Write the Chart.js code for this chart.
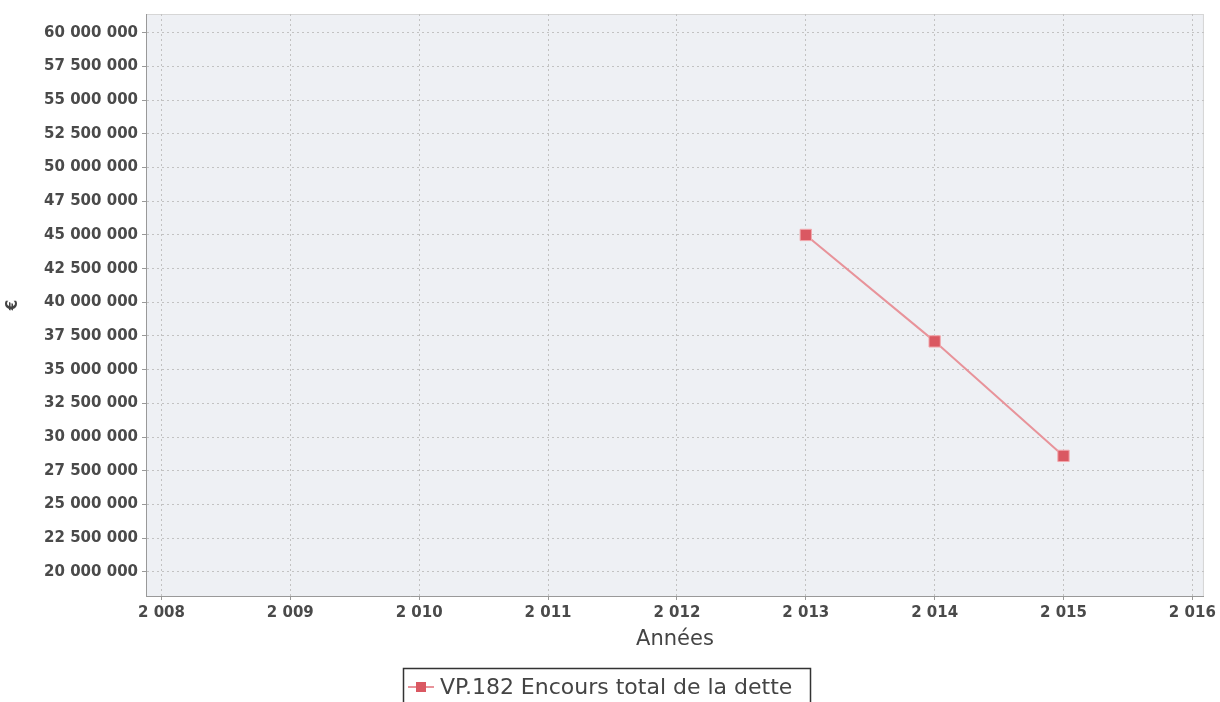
<!DOCTYPE html>
<html>
<head>
<meta charset="utf-8">
<script src="https://cdn.jsdelivr.net/npm/chart.js@4/dist/chart.umd.min.js"></script>
<style>
  body { margin: 0; background: #fff; }
  canvas { display: block; }
</style>
</head>
<body>
<canvas id="debtChart" width="1220" height="702"></canvas>
<script>
// data
const years = [2013, 2014, 2015];
const encours = [45000000, 37100000, 28600000];
const xTicks = [2008, 2009, 2010, 2011, 2012, 2013, 2014, 2015, 2016];
const yTicks = [20000000, 22500000, 25000000, 27500000, 30000000, 32500000, 35000000,
  37500000, 40000000, 42500000, 45000000, 47500000, 50000000, 52500000, 55000000,
  57500000, 60000000];
const seriesLabel = 'VP.182 Encours total de la dette';

const LINE_COLOR = '#e8939a';
const POINT_COLOR = '#da5862';
const FONT = 'DejaVu Sans';

// 60000000 -> "60 000 000", 2008 -> "2 008"
function spaced(v) {
  return String(Math.round(v)).replace(/\B(?=(\d{3})+(?!\d))/g, ' ');
}

const plotBackground = {
  id: 'plotBackground',
  beforeDraw(chart) {
    const { ctx, chartArea: a } = chart;
    ctx.save();
    ctx.fillStyle = '#eef0f4';
    ctx.fillRect(a.left, a.top, a.right - a.left, a.bottom - a.top);
    ctx.strokeStyle = '#d6d6d6';
    ctx.lineWidth = 1;
    ctx.strokeRect(a.left + 0.5, a.top + 0.5, a.right - a.left - 1, a.bottom - a.top);
    ctx.restore();
  },
};

// boxed legend like the original (line + square marker)
const boxedLegend = {
  id: 'boxedLegend',
  afterDraw(chart) {
    const { ctx } = chart;
    const ds = chart.data.datasets[0];
    ctx.save();
    ctx.font = '22px ' + FONT;
    const tw = ctx.measureText(ds.label).width;
    const x0 = 403;
    const y0 = 668;
    const w = Math.max(407, tw + 44);
    ctx.strokeStyle = '#333';
    ctx.lineWidth = 1.5;
    ctx.strokeRect(x0 + 0.5, y0 + 0.5, w, 44);
    const cy = y0 + 19;
    ctx.strokeStyle = LINE_COLOR;
    ctx.lineWidth = 2;
    ctx.beginPath();
    ctx.moveTo(x0 + 5, cy);
    ctx.lineTo(x0 + 31, cy);
    ctx.stroke();
    ctx.fillStyle = POINT_COLOR;
    ctx.fillRect(x0 + 13, cy - 5, 10, 10);
    ctx.fillStyle = '#444';
    ctx.textBaseline = 'middle';
    ctx.fillText(ds.label, x0 + 37, cy + 1);
    ctx.restore();
  },
};

new Chart(document.getElementById('debtChart').getContext('2d'), {
  type: 'line',
  data: {
    datasets: [
      {
        label: seriesLabel,
        data: years.map((y, i) => ({ x: y, y: encours[i] })),
        borderColor: LINE_COLOR,
        borderWidth: 2,
        pointStyle: 'rect',
        pointRadius: 8,
        pointBackgroundColor: POINT_COLOR,
        pointBorderColor: '#f2a8ad',
        pointBorderWidth: 1,
        lineTension: 0,
      },
    ],
  },
  options: {
    responsive: false,
    animation: false,
    devicePixelRatio: 1,
    layout: { padding: { left: 0, right: 15, top: 14, bottom: 50 } },
    plugins: {
      legend: { display: false },
      tooltip: { enabled: false },
    },
    scales: {
      x: {
        type: 'linear',
        min: 2007.88,
        max: 2016.09,
        afterBuildTicks: (scale) => { scale.ticks = xTicks.map((v) => ({ value: v })); },
        afterFit: (scale) => { scale.height = 56; },
        grid: {
          color: '#c2c2c2',
          tickColor: '#999',
          tickLength: 4,
        },
        border: { color: '#999', dash: [2, 3] },
        ticks: {
          color: '#4a4a4a',
          font: { family: FONT, size: 15, weight: 'bold' },
          padding: 4,
          maxRotation: 0,
          autoSkip: false,
          callback: (v) => spaced(v),
        },
        title: {
          display: true,
          text: 'Années',
          color: '#444',
          font: { family: FONT, size: 21 },
          padding: { top: 0, bottom: 0 },
        },
      },
      y: {
        min: 18200000,
        max: 61400000,
        afterBuildTicks: (scale) => { scale.ticks = yTicks.map((v) => ({ value: v })); },
        afterFit: (scale) => { scale.width = 146; },
        grid: {
          color: '#c2c2c2',
          tickColor: '#999',
          tickLength: 4,
        },
        border: { color: '#999', dash: [2, 3] },
        ticks: {
          color: '#4a4a4a',
          font: { family: FONT, size: 15, weight: 'bold' },
          padding: 4,
          autoSkip: false,
          callback: (v) => spaced(v),
        },
        title: {
          display: true,
          text: '€',
          color: '#444',
          font: { family: FONT, size: 15, weight: 'bold' },
          padding: 4,
        },
      },
    },
  },
  plugins: [plotBackground, boxedLegend],
});
</script>
</body>
</html>
